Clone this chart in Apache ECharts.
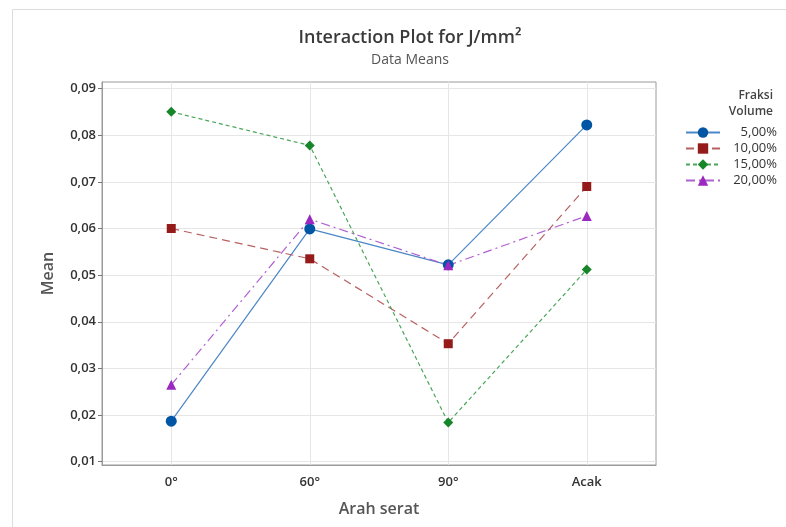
<!DOCTYPE html>
<html>
<head>
<meta charset="utf-8">
<script src="https://cdn.jsdelivr.net/npm/echarts@6/dist/echarts.min.js"></script>
<style>html,body{margin:0;padding:0;background:#fff;}#c{width:786px;height:527px;}</style>
</head>
<body>
<div id="c"></div>
<script>
var categories = ['0°', '60°', '90°', 'Acak'];
var seriesNames = ['5,00%', '10,00%', '15,00%', '20,00%'];
var vol5 = [0.0187, 0.0599, 0.0522, 0.0822];
var vol10 = [0.0600, 0.0535, 0.0353, 0.0690];
var vol15 = [0.0850, 0.0778, 0.0184, 0.0512];
var vol20 = [0.0265, 0.0620, 0.0521, 0.0627];
var yTicks = [0.01, 0.02, 0.03, 0.04, 0.05, 0.06, 0.07, 0.08, 0.09];
var xTicks = categories.map(function (c, i) { return i; });

var fontFam = '"Open Sans", "Noto Sans", sans-serif';
var chart = echarts.init(document.getElementById('c'), null, {renderer: 'canvas'});

function mk(name, data, color, lineColor, symbol, size, dash) {
  return {
    name: name, type: 'line',
    data: data.map(function (v, i) { return [i, v]; }),
    symbol: symbol, symbolSize: size,
    itemStyle: {color: color},
    lineStyle: {color: lineColor, width: 1.2, type: dash},
    emphasis: {disabled: true},
    animation: false
  };
}

chart.setOption({
  backgroundColor: '#fff',
  animation: false,
  title: {
    text: 'Interaction Plot for J/mm²',
    subtext: 'Data Means',
    left: 405, top: 24, textAlign: 'center',
    itemGap: 6,
    textStyle: {fontFamily: fontFam, fontSize: 18, fontWeight: 600, color: '#3a3a3a'},
    subtextStyle: {fontFamily: fontFam, fontSize: 14, color: '#555'}
  },
  graphic: [
    {type: 'line', shape: {x1: 12.5, y1: 9.5, x2: 786, y2: 9.5}, style: {stroke: '#dcdcdc', lineWidth: 1}},
    {type: 'line', shape: {x1: 12.5, y1: 9.5, x2: 12.5, y2: 527}, style: {stroke: '#dcdcdc', lineWidth: 1}},
    {type: 'text', right: 13, top: 90, style: {text: 'Fraksi', font: '600 12px ' + fontFam, fill: '#444', textAlign: 'right'}},
    {type: 'text', right: 13, top: 106, style: {text: 'Volume', font: '600 12px ' + fontFam, fill: '#444', textAlign: 'right'}}
  ],
  legend: {
    orient: 'vertical',
    left: 680, top: 121,
    itemWidth: 34, itemHeight: 13, itemGap: 3,
    data: seriesNames,
    formatter: function (n) { return '{a|' + n + '}'; },
    textStyle: {
      fontFamily: fontFam, fontSize: 13, color: '#333',
      rich: {a: {width: 52, align: 'right', fontFamily: fontFam, fontSize: 13, color: '#333'}}
    }
  },
  grid: {left: 102, right: 130, top: 82, bottom: 62, show: true, borderColor: '#9a9a9a', borderWidth: 1},
  xAxis: {
    type: 'value', min: -0.5, max: 3.5,
    name: 'Arah serat', nameLocation: 'middle', nameGap: 36,
    nameTextStyle: {fontFamily: fontFam, fontSize: 16, fontWeight: 600, color: '#555'},
    axisLine: {show: true, onZero: false, lineStyle: {color: '#9a9a9a'}},
    axisTick: {show: false, customValues: xTicks},
    axisLabel: {
      customValues: xTicks, fontFamily: fontFam, fontSize: 13, fontWeight: 600, color: '#333', margin: 11,
      formatter: function (v) { return categories[Math.round(v)]; }
    },
    splitLine: {show: true, lineStyle: {color: '#e6e6e6'}}
  },
  yAxis: {
    type: 'value', min: 0.0093, max: 0.0914,
    name: 'Mean', nameLocation: 'middle', nameGap: 46, nameRotate: 90,
    nameTextStyle: {fontFamily: fontFam, fontSize: 16, fontWeight: 600, color: '#555'},
    axisLine: {show: true, onZero: false, lineStyle: {color: '#9a9a9a'}},
    axisTick: {show: true, length: 4, inside: false, customValues: yTicks, lineStyle: {color: '#777'}},
    axisLabel: {
      customValues: yTicks, fontFamily: fontFam, fontSize: 13, fontWeight: 600, color: '#333', margin: 6,
      formatter: function (v) { return v.toFixed(2).replace('.', ','); }
    },
    splitLine: {show: true, lineStyle: {color: '#e6e6e6'}}
  },
  series: [
    mk(seriesNames[0], vol5, '#0055a5', '#4b87c6', 'circle', 11, 'solid'),
    mk(seriesNames[1], vol10, '#951a1a', '#b86060', 'rect', 9, [8, 5]),
    mk(seriesNames[2], vol15, '#17852a', '#4aa65a', 'diamond', 10, [4, 3]),
    mk(seriesNames[3], vol20, '#9b28c0', '#b060d0', 'triangle', 10, [9, 4, 2, 4])
  ]
});
</script>
</body>
</html>
